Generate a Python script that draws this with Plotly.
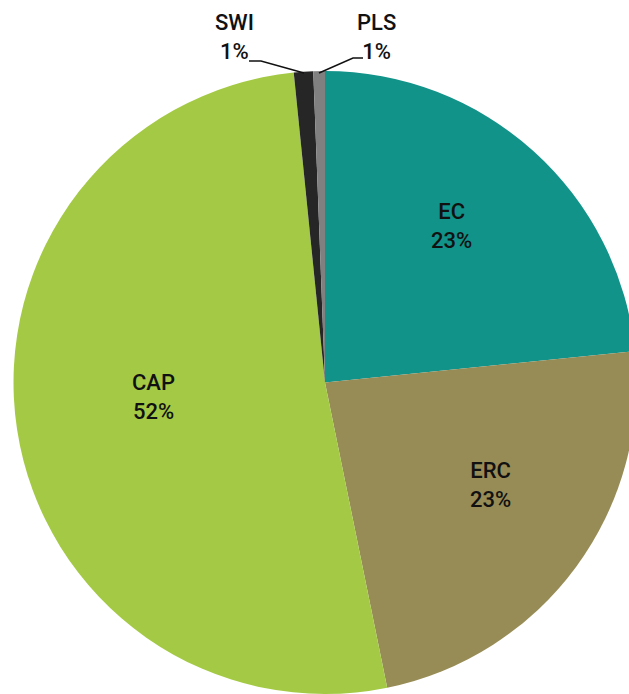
import plotly.graph_objects as go

# Datos del gráfico
etiquetas = ['EC', 'ERC', 'CAP', 'SWI', 'PLS']
valores = [23.4, 23.4, 51.6, 1.0, 0.6]
colores = ['#11938a', '#978c55', '#a4ca45', '#262626', '#808080']

# La figura es un poco más ancha que la ventana: el pastel se corta por la derecha
W, H = 640, 694


def px(x, y):
    # convertir pixeles a coordenadas paper
    return x / W, 1 - y / H


fuente = dict(family='Roboto, DejaVu Sans, sans-serif', size=22, color='#111111', weight=500)

# Centro y radio del pastel en pixeles
cx, cy, r = 325, 383, 312

fig = go.Figure()

fig.add_trace(go.Pie(
    labels=etiquetas,
    values=valores,
    sort=False,
    direction='clockwise',
    rotation=0,
    marker=dict(colors=colores, line=dict(width=0)),
    textinfo='none',
    showlegend=False,
    hoverinfo='label+percent',
    domain=dict(x=[(cx - r) / W, (cx + r) / W],
                y=[max(0, (H - cy - r) / H), (H - cy + r) / H]),
))

# Posiciones de las etiquetas (pixeles)
pos_etiquetas = [(451, 226), (490, 485), (153, 397), (234, 37), (376, 37)]
total = sum(valores)
for nombre, valor, (x, y) in zip(etiquetas, valores, pos_etiquetas):
    ax, ay = px(x, y)
    fig.add_annotation(
        x=ax, y=ay, xref='paper', yref='paper',
        xanchor='center', yanchor='middle',
        text=f'{nombre}<br>{valor / total:.0%}',
        showarrow=False, font=fuente, align='center',
    )

# Líneas guía
for puntos in [[(249, 61), (261, 61), (304, 73)], [(319, 73), (353, 58), (363, 58)]]:
    p = [px(x, y) for x, y in puntos]
    ruta = 'M {} {} L {} {} L {} {}'.format(p[0][0], p[0][1], p[1][0], p[1][1], p[2][0], p[2][1])
    fig.add_shape(type='path', path=ruta, xref='paper', yref='paper',
                  line=dict(color='#111111', width=1.5))

fig.update_layout(
    width=W, height=H,
    margin=dict(l=0, r=0, t=0, b=0),
    paper_bgcolor='white',
    plot_bgcolor='white',
)

# Sin margen en el body, sin barras de desplazamiento ni barra de herramientas
fig.write_html('out.html', config={'displayModeBar': False},
               post_script="document.body.style.margin='0';"
                           "document.documentElement.style.overflow='hidden';"
                           "document.body.style.overflow='hidden';")
